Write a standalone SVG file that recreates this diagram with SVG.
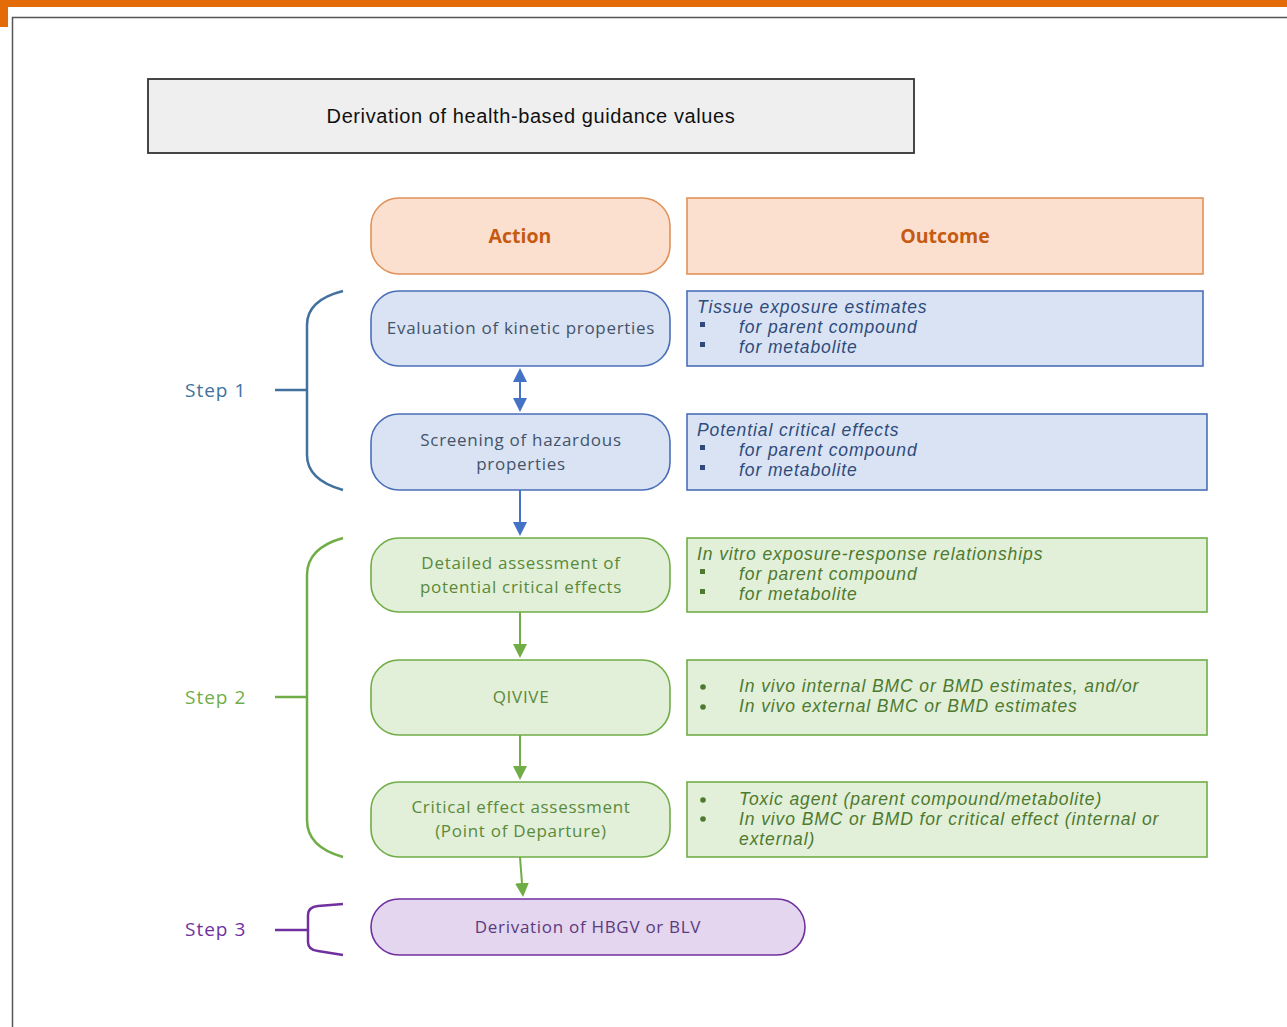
<svg xmlns="http://www.w3.org/2000/svg" width="1287" height="1027" viewBox="0 0 1287 1027">
<defs>
<marker id="ab" markerWidth="14" markerHeight="14" refX="7" refY="7" orient="auto-start-reverse" markerUnits="userSpaceOnUse"><path d="M0,0 L14,7 L0,14 Z" fill="#4472c4"/></marker>
<marker id="ag" markerWidth="14" markerHeight="14" refX="7" refY="7" orient="auto-start-reverse" markerUnits="userSpaceOnUse"><path d="M0,0 L14,7 L0,14 Z" fill="#70ad47"/></marker>
</defs>
<style>
text{font-family:"Open Sans","Liberation Sans",sans-serif}
.act{font-size:17px;letter-spacing:0.7px;text-anchor:middle}
.out{font-family:"Liberation Sans",sans-serif;font-size:17.5px;font-style:italic;letter-spacing:0.9px}
.hdr{font-size:19.5px;font-weight:bold;fill:#c55a11;text-anchor:middle}
.ob{fill:#dae3f3;stroke:#4a6fb8;stroke-width:1.6}
.og{fill:#e2efd9;stroke:#70ad47;stroke-width:1.6}
.bt{fill:#44546a}
.gt{fill:#5a8a3a}
.bo{fill:#2f4b7c}
.go{fill:#4e7a2f}
.step{font-size:19px;letter-spacing:1px}
</style>
<rect x="0" y="0" width="1287" height="7" fill="#e36c09"/>
<rect x="0" y="0" width="8" height="27" fill="#e36c09"/>
<path d="M12.5,1027 V17.5 H1287" fill="none" stroke="#555" stroke-width="1.5"/>
<g id="title">
<rect x="148" y="79" width="766" height="74" fill="#efefef" stroke="#333" stroke-width="1.8"/>
<text x="531" y="123" font-size="20" letter-spacing="0.6" text-anchor="middle" fill="#111" style="font-family:'Liberation Sans',sans-serif">Derivation of health-based guidance values</text>
</g>
<g id="action-hdr">
<rect x="371" y="198" width="299" height="76" rx="28" fill="#fbe0d0" stroke="#e0925a" stroke-width="1.6"/>
<text class="hdr" x="520" y="243">Action</text>
</g>
<g id="outcome-hdr">
<rect x="687" y="198" width="516" height="76" fill="#fbe0d0" stroke="#e0925a" stroke-width="1.6"/>
<text class="hdr" x="945" y="243">Outcome</text>
</g>
<g id="eval">
<rect class="ob" x="371" y="291" width="299" height="75" rx="28"/>
<text class="act bt" x="521" y="334">Evaluation of kinetic properties</text>
</g>
<g id="eval-out">
<rect class="ob" x="687" y="291" width="516" height="75"/>
<text class="out bo" x="697" y="313">Tissue exposure estimates</text>
<rect x="700" y="322" width="5" height="5" fill="#2f4b7c"/><text class="out bo" x="739" y="333">for parent compound</text>
<rect x="700" y="342" width="5" height="5" fill="#2f4b7c"/><text class="out bo" x="739" y="353">for metabolite</text>
</g>
<g id="screen">
<rect class="ob" x="371" y="414" width="299" height="76" rx="28"/>
<text class="act bt" x="521" y="446">Screening of hazardous</text>
<text class="act bt" x="521" y="470">properties</text>
</g>
<g id="screen-out">
<rect class="ob" x="687" y="414" width="520" height="76"/>
<text class="out bo" x="697" y="436">Potential critical effects</text>
<rect x="700" y="445" width="5" height="5" fill="#2f4b7c"/><text class="out bo" x="739" y="456">for parent compound</text>
<rect x="700" y="465" width="5" height="5" fill="#2f4b7c"/><text class="out bo" x="739" y="476">for metabolite</text>
</g>
<g id="detailed">
<rect class="og" x="371" y="538" width="299" height="74" rx="28"/>
<text class="act gt" x="521" y="569">Detailed assessment of</text>
<text class="act gt" x="521" y="593">potential critical effects</text>
</g>
<g id="detailed-out">
<rect class="og" x="687" y="538" width="520" height="74"/>
<text class="out go" x="697" y="560">In vitro exposure-response relationships</text>
<rect x="700" y="569" width="5" height="5" fill="#4e7a2f"/><text class="out go" x="739" y="580">for parent compound</text>
<rect x="700" y="589" width="5" height="5" fill="#4e7a2f"/><text class="out go" x="739" y="600">for metabolite</text>
</g>
<g id="qivive">
<rect class="og" x="371" y="660" width="299" height="75" rx="28"/>
<text class="act gt" x="521" y="703">QIVIVE</text>
</g>
<g id="qivive-out">
<rect class="og" x="687" y="660" width="520" height="75"/>
<circle cx="703" cy="687" r="2.8" fill="#4e7a2f"/><text class="out go" x="739" y="692">In vivo internal BMC or BMD estimates, and/or</text>
<circle cx="703" cy="707" r="2.8" fill="#4e7a2f"/><text class="out go" x="739" y="712">In vivo external BMC or BMD estimates</text>
</g>
<g id="critical">
<rect class="og" x="371" y="782" width="299" height="75" rx="28"/>
<text class="act gt" x="521" y="813">Critical effect assessment</text>
<text class="act gt" x="521" y="837">(Point of Departure)</text>
</g>
<g id="critical-out">
<rect class="og" x="687" y="782" width="520" height="75"/>
<circle cx="703" cy="800" r="2.8" fill="#4e7a2f"/><text class="out go" x="739" y="805">Toxic agent (parent compound/metabolite)</text>
<circle cx="703" cy="819" r="2.8" fill="#4e7a2f"/><text class="out go" x="739" y="825">In vivo BMC or BMD  for critical effect (internal or</text>
<text class="out go" x="739" y="845">external)</text>
</g>
<g id="hbgv">
<rect x="371" y="899" width="434" height="56" rx="28" fill="#e4d6ee" stroke="#7030a0" stroke-width="1.6"/>
<text class="act" x="588" y="933" fill="#5b3a80">Derivation of HBGV or BLV</text>
</g>
<g id="step1">
<path d="M343,291 Q307,300 307,325 V455 Q307,480 343,490 M275,390 H307" fill="none" stroke="#41719c" stroke-width="2.5"/>
<text class="step" x="185" y="397" fill="#41719c">Step 1</text>
</g>
<g id="step2">
<path d="M343,538 Q307,548 307,575 V820 Q307,847 343,857 M275,697 H307" fill="none" stroke="#70ad47" stroke-width="2.5"/>
<text class="step" x="185" y="704" fill="#70ad47">Step 2</text>
</g>
<g id="step3">
<path d="M343,904 L318,906 Q308,907 308,915 V942 Q308,950 318,951 L343,955 M275,930 H308" fill="none" stroke="#7030a0" stroke-width="2.5"/>
<text class="step" x="185" y="936" fill="#7030a0">Step 3</text>
</g>
<g id="connectors" fill="none" stroke-width="2">
<line x1="520" y1="375" x2="520" y2="405" stroke="#4472c4" marker-start="url(#ab)" marker-end="url(#ab)"/>
<line x1="520" y1="490" x2="520" y2="529" stroke="#4472c4" marker-end="url(#ab)"/>
<line x1="520" y1="612" x2="520" y2="651" stroke="#70ad47" marker-end="url(#ag)"/>
<line x1="520" y1="735" x2="520" y2="773" stroke="#70ad47" marker-end="url(#ag)"/>
<line x1="520" y1="857" x2="522.5" y2="890" stroke="#70ad47" marker-end="url(#ag)"/>
</g>
</svg>
